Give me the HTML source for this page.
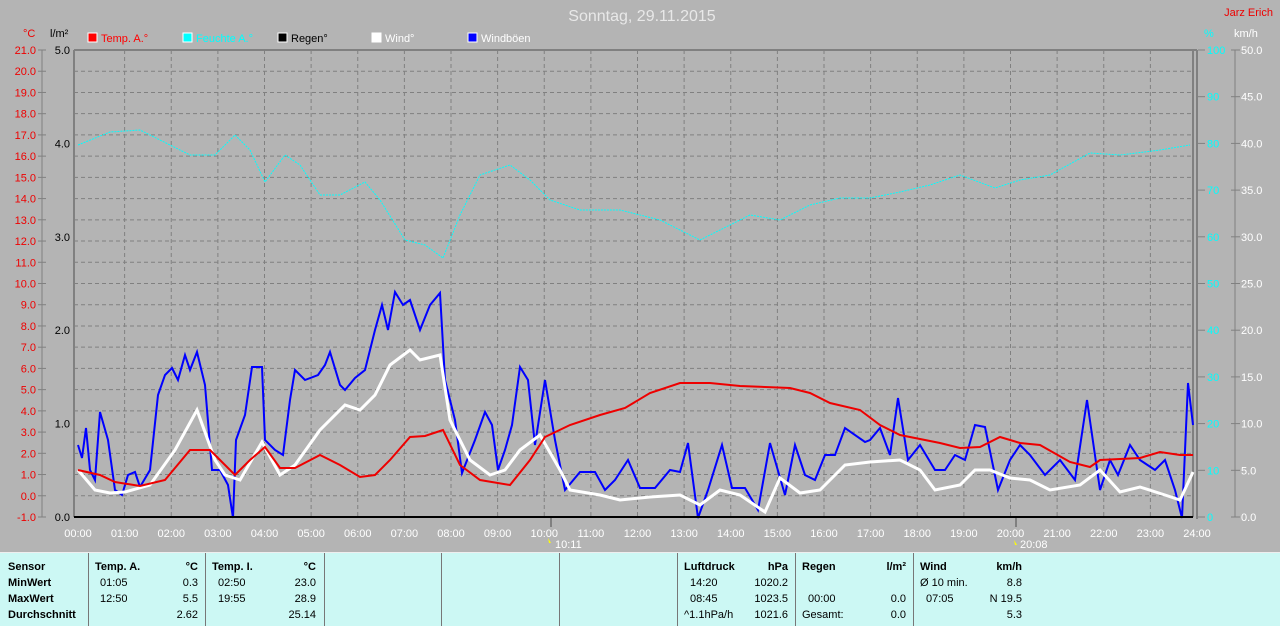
<!DOCTYPE html>
<html><head><meta charset="utf-8"><style>
body{margin:0;width:1280px;height:625px;overflow:hidden;background:#b4b4b4;font-family:"Liberation Sans",sans-serif}
svg{position:absolute;left:0;top:0}
#tbl{position:absolute;left:0;top:552px;width:1280px;height:73px;background:#ccf8f4;border-top:1px solid #eee}
.c{position:absolute;top:0;height:73px;border-left:1px solid #777}
.t{position:absolute;font-size:11px;color:#000;white-space:nowrap}
.b{font-weight:bold}
</style></head><body>
<svg width="1280" height="552" id="s" font-family="Liberation Sans, sans-serif"></svg>
<div id="tbl"></div>
<script>
const s=document.getElementById('s');let h='';
const X0=78,X1=1197,YT=50,YB=517;
h+=`<text x="642" y="21" fill="#e8e8e8" font-size="16" text-anchor="middle">Sonntag, 29.11.2015</text>`;
h+=`<text x="1273" y="16" fill="#e00" font-size="11" text-anchor="end">Jarz Erich</text>`;
// grid
for(let i=1;i<22;i++){let y=YT+i*(YB-YT)/22;h+=`<line x1="74" x2="1193" y1="${y}" y2="${y}" stroke="#808080" stroke-dasharray="4,3"/>`}
for(let i=1;i<24;i++){let x=X0+i*(X1-X0)/24;h+=`<line x1="${x}" x2="${x}" y1="${YT}" y2="${YB}" stroke="#808080" stroke-dasharray="4,3"/>`}
h+=`<line x1="74" x2="1197" y1="${YT}" y2="${YT}" stroke="#808080" stroke-width="2"/>`;
h+=`<line x1="74" x2="74" y1="${YT}" y2="${YB}" stroke="#808080" stroke-width="2"/>`;
h+=`<line x1="1193" x2="1193" y1="${YT}" y2="${YB}" stroke="#808080" stroke-width="2"/><line x1="1197" x2="1197" y1="${YT}" y2="${YB+2}" stroke="#808080" stroke-width="2"/>`;
// left axis
h+=`<text x="23" y="37" fill="#e00" font-size="11">°C</text><text x="50" y="37" fill="#000" font-size="11">l/m²</text>`;
h+=`<line x1="42" x2="42" y1="${YT}" y2="${YB}" stroke="#808080"/>`;
for(let i=0;i<=22;i++){let y=YT+i*(YB-YT)/22;h+=`<line x1="38" x2="46" y1="${y}" y2="${y}" stroke="#808080"/><text x="36" y="${y+4}" fill="#e00" font-size="11" text-anchor="end">${(21-i).toFixed(1)}</text>`}
for(let i=0;i<=5;i++){let y=YT+i*(YB-YT)/5;h+=`<text x="70" y="${y+4}" fill="#000" font-size="11" text-anchor="end">${(5-i).toFixed(1)}</text>`}
// right axes
h+=`<text x="1204" y="37" fill="#0ff" font-size="11">%</text><text x="1234" y="37" fill="#fff" font-size="11">km/h</text>`;
h+=`<line x1="1235" x2="1235" y1="${YT}" y2="${YB}" stroke="#808080"/>`;
for(let i=0;i<=10;i++){let y=YT+i*(YB-YT)/10;h+=`<line x1="1198" x2="1205" y1="${y}" y2="${y}" stroke="#808080"/><line x1="1231" x2="1240" y1="${y}" y2="${y}" stroke="#808080"/><text x="1207" y="${y+4}" fill="#0ff" font-size="11">${100-i*10}</text><text x="1241" y="${y+4}" fill="#fff" font-size="11">${(50-i*5).toFixed(1)}</text>`}
// legend
const lg=[[88,'#f00','Temp. A.°','#f00'],[183,'#0ff','Feuchte A.°','#0ff'],[278,'#000','Regen°','#000'],[372,'#fff','Wind°','#fff'],[468,'#00f','Windböen','#fff']];
lg.forEach(l=>{h+=`<rect x="${l[0]}" y="33" width="9" height="9" fill="${l[1]}" stroke="#fff"/><text x="${l[0]+13}" y="42" fill="${l[3]}" font-size="11">${l[2]}</text>`});
// x labels
for(let i=0;i<=24;i++){let x=X0+i*(X1-X0)/24;h+=`<text x="${x}" y="537" fill="#fff" font-size="11" text-anchor="middle">${String(i).padStart(2,'0')}:00</text>`}
h+=`<line x1="551" x2="551" y1="517" y2="527" stroke="#808080" stroke-width="2"/><text x="555" y="548" fill="#fff" font-size="11">10:11</text><path d="M548 538l3 5h-2z" fill="#ff0"/>`;
h+=`<line x1="1016" x2="1016" y1="517" y2="527" stroke="#808080" stroke-width="2"/><text x="1020" y="548" fill="#fff" font-size="11">20:08</text><path d="M1014 540l3 5h-2z" fill="#ff0"/>`;
const P=a=>a.map(p=>p.join(',')).join(' ');
const cy=[[78,145],[110,132],[140,130],[170,145],[190,155],[215,155],[235,135],[250,150],[265,182],[285,155],[300,165],[320,195],[340,195],[365,182],[380,200],[405,240],[425,245],[443,258],[460,215],[480,175],[510,165],[530,180],[550,200],[580,210],[620,210],[660,220],[700,240],[720,230],[750,215],[780,220],[810,205],[840,198],[870,198],[900,192],[930,185],[960,175],[995,188],[1020,180],[1050,175],[1090,153],[1120,155],[1160,150],[1190,145]];
const bl=[[78,445],[82,458],[86,428],[90,470],[95,480],[100,412],[108,440],[115,490],[122,495],[128,475],[135,472],[140,487],[150,470],[158,395],[165,375],[172,368],[178,380],[185,355],[190,370],[197,352],[205,385],[212,470],[220,470],[228,485],[233,518],[236,440],[245,415],[252,367],[262,367],[265,440],[275,450],[283,455],[290,400],[295,370],[305,380],[318,375],[325,365],[330,352],[340,385],[345,390],[355,378],[365,370],[375,330],[382,305],[388,330],[395,292],[403,305],[410,300],[420,330],[430,305],[440,293],[445,380],[455,420],[462,473],[475,440],[485,412],[492,425],[498,470],[505,450],[512,425],[520,367],[528,380],[535,445],[545,380],[555,440],[565,490],[580,472],[595,472],[605,490],[615,480],[628,460],[640,488],[655,488],[670,470],[680,472],[688,443],[698,518],[708,490],[722,445],[732,488],[745,488],[758,510],[770,443],[785,495],[795,445],[805,475],[815,480],[825,455],[835,455],[845,428],[865,442],[870,440],[880,428],[890,455],[898,398],[908,460],[920,445],[935,470],[945,470],[955,455],[965,460],[975,425],[985,427],[998,490],[1010,460],[1020,445],[1030,455],[1045,475],[1060,460],[1075,480],[1087,400],[1100,490],[1110,460],[1118,475],[1130,445],[1140,460],[1155,470],[1165,460],[1175,490],[1182,518],[1188,383],[1193,425]];
const wh=[[78,470],[95,490],[110,493],[125,492],[150,485],[175,450],[197,410],[215,460],[225,475],[240,480],[262,442],[280,475],[295,465],[320,430],[345,405],[360,410],[375,395],[390,365],[410,350],[420,360],[440,355],[450,420],[470,460],[490,475],[505,470],[520,450],[540,435],[560,470],[570,490],[600,495],[620,500],[650,497],[680,495],[700,505],[720,490],[740,495],[765,512],[780,478],[800,493],[820,490],[845,465],[870,462],[900,460],[920,470],[935,490],[960,485],[975,470],[990,470],[1010,478],[1030,480],[1050,490],[1080,485],[1100,470],[1120,492],[1140,487],[1165,495],[1180,500],[1193,472]];
const rd=[[78,470],[100,475],[115,482],[140,486],[165,480],[190,450],[210,450],[225,465],[235,475],[250,460],[265,447],[280,468],[295,468],[320,455],[340,465],[360,477],[375,475],[390,460],[410,437],[425,436],[443,430],[460,465],[480,480],[510,485],[530,460],[545,437],[570,425],[600,415],[625,408],[650,393],[680,383],[710,383],[740,386],[790,388],[810,393],[830,403],[860,410],[880,425],[900,435],[940,443],[960,448],[980,447],[1000,437],[1020,443],[1040,445],[1070,462],[1090,467],[1100,460],[1140,458],[1160,452],[1180,455],[1193,455]];
h+=`<polyline points="${P(cy)}" fill="none" stroke="#0ff" stroke-width="1" stroke-dasharray="2,1"/>`;
h+=`<polyline points="${P(bl)}" fill="none" stroke="#00f" stroke-width="2"/>`;
h+=`<polyline points="${P(wh)}" fill="none" stroke="#fff" stroke-width="3"/>`;
h+=`<polyline points="${P(rd)}" fill="none" stroke="#e00" stroke-width="2"/>`;
h+=`<line x1="74" x2="1193" y1="${YB}" y2="${YB}" stroke="#000" stroke-width="2"/>`;
s.innerHTML=h;
// table
let t='';
[88,205,324,441,559,677,795,913].forEach(x=>t+=`<div class="c" style="left:${x}px"></div>`);
const T=(x,y,txt,b,r)=>t+=`<div class="t${b?' b':''}" style="${r?'right:'+(1280-x)+'px':'left:'+x+'px'};top:${y}px">${txt}</div>`;
const rows=[8,24,40,56];
['Sensor','MinWert','MaxWert','Durchschnitt'].forEach((v,i)=>T(8,rows[i],v,1));
T(95,8,'Temp. A.',1);T(198,8,'°C',1,1);T(100,24,'01:05');T(198,24,'0.3',0,1);T(100,40,'12:50');T(198,40,'5.5',0,1);T(198,56,'2.62',0,1);
T(212,8,'Temp. I.',1);T(316,8,'°C',1,1);T(218,24,'02:50');T(316,24,'23.0',0,1);T(218,40,'19:55');T(316,40,'28.9',0,1);T(316,56,'25.14',0,1);
T(684,8,'Luftdruck',1);T(788,8,'hPa',1,1);T(690,24,'14:20');T(788,24,'1020.2',0,1);T(690,40,'08:45');T(788,40,'1023.5',0,1);T(684,56,'^1.1hPa/h');T(788,56,'1021.6',0,1);
T(802,8,'Regen',1);T(906,8,'l/m²',1,1);T(808,40,'00:00');T(906,40,'0.0',0,1);T(802,56,'Gesamt:');T(906,56,'0.0',0,1);
T(920,8,'Wind',1);T(1022,8,'km/h',1,1);T(920,24,'Ø 10 min.');T(1022,24,'8.8',0,1);T(926,40,'07:05');T(1022,40,'N 19.5',0,1);T(1022,56,'5.3',0,1);
document.getElementById('tbl').innerHTML=t;
</script>
</body></html>
